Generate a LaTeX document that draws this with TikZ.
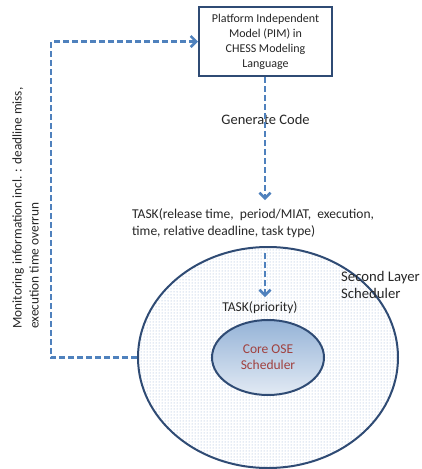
\documentclass[tikz,border=0pt]{standalone}
\usepackage{fontspec}
\setmainfont{Carlito}
\usepackage{tikz}
\usetikzlibrary{shapes.geometric,arrows.meta,positioning,calc,patterns}

\definecolor{flowblue}{HTML}{4F81BD}
\definecolor{edgeblue}{HTML}{2F4B74}
\definecolor{dotblue}{HTML}{8FAAD0}
\definecolor{topblue}{HTML}{95B3D7}
\definecolor{lowblue}{HTML}{E2EAF4}
\definecolor{coretext}{HTML}{A0413F}
\definecolor{txt}{HTML}{262626}

\begin{document}
\begin{tikzpicture}[x=1pt, y=-1pt, >={Straight Barb[length=5.5pt,width=11pt]},
  flow/.style={->, flowblue, line width=2.5pt, dash pattern=on 6pt off 3pt},
  lbl/.style={text=txt, inner sep=0pt}]
\tikzstyle{pimbox}=[draw=edgeblue, line width=2pt, fill=white, text=txt,
  minimum width=133pt, minimum height=69pt, align=center, inner sep=2pt,
  font=\fontsize{12}{15}\selectfont]
\tikzstyle{second}=[ellipse, draw=edgeblue, line width=2pt, pattern=dots,
  pattern color=dotblue, minimum width=260pt, minimum height=221pt]
\tikzstyle{core}=[ellipse, draw=edgeblue, line width=2pt, top color=topblue,
  bottom color=lowblue, text=coretext, align=center, minimum width=112pt,
  minimum height=75pt, font=\fontsize{13.5}{16}\selectfont]
\useasboundingbox (0,0) rectangle (421,469);

\node[pimbox]   (pim) at (265.5,41.5) {Platform Independent\\Model (PIM) in\\CHESS Modeling\\Language};
\node[lbl, below of=pim, node distance=78pt, font=\fontsize{14.5}{17}\selectfont] (gen) {Generate Code};
\node[lbl, anchor=west, align=left, font=\fontsize{13.5}{17}\selectfont] (task) at (132,223.5)
  {TASK(release time,\ \ period/MIAT,\ \ execution,\\time, relative deadline, task type)};
\node[second]   (sls) at (268,357.5) {};
\node[core]     (core) at (sls.center) {Core OSE\\Scheduler};
\node[lbl, font=\fontsize{13.5}{16}\selectfont] (prio) at (260,308) {TASK(priority)};
\node[lbl, anchor=west, align=left, font=\fontsize{14.7}{17}\selectfont] (slsname) at (341,284.5)
  {Second Layer\\Scheduler};
\node[lbl, rotate=90, align=left, font=\fontsize{13.3}{17}\selectfont] (mon) at (25.5,208)
  {Monitoring information incl. : deadline miss,\\execution time overrun};

\coordinate (tipa) at (265,200);
\coordinate (srcb) at (265,253);
\coordinate (tipb) at (265,297);

\draw[flow] (pim.south -| tipa) -- (tipa);
\draw[flow] (srcb) -- (tipb);
\draw[flow] (sls.west) -- ++(-86,0) |- (pim.west);
\end{tikzpicture}
\end{document}
